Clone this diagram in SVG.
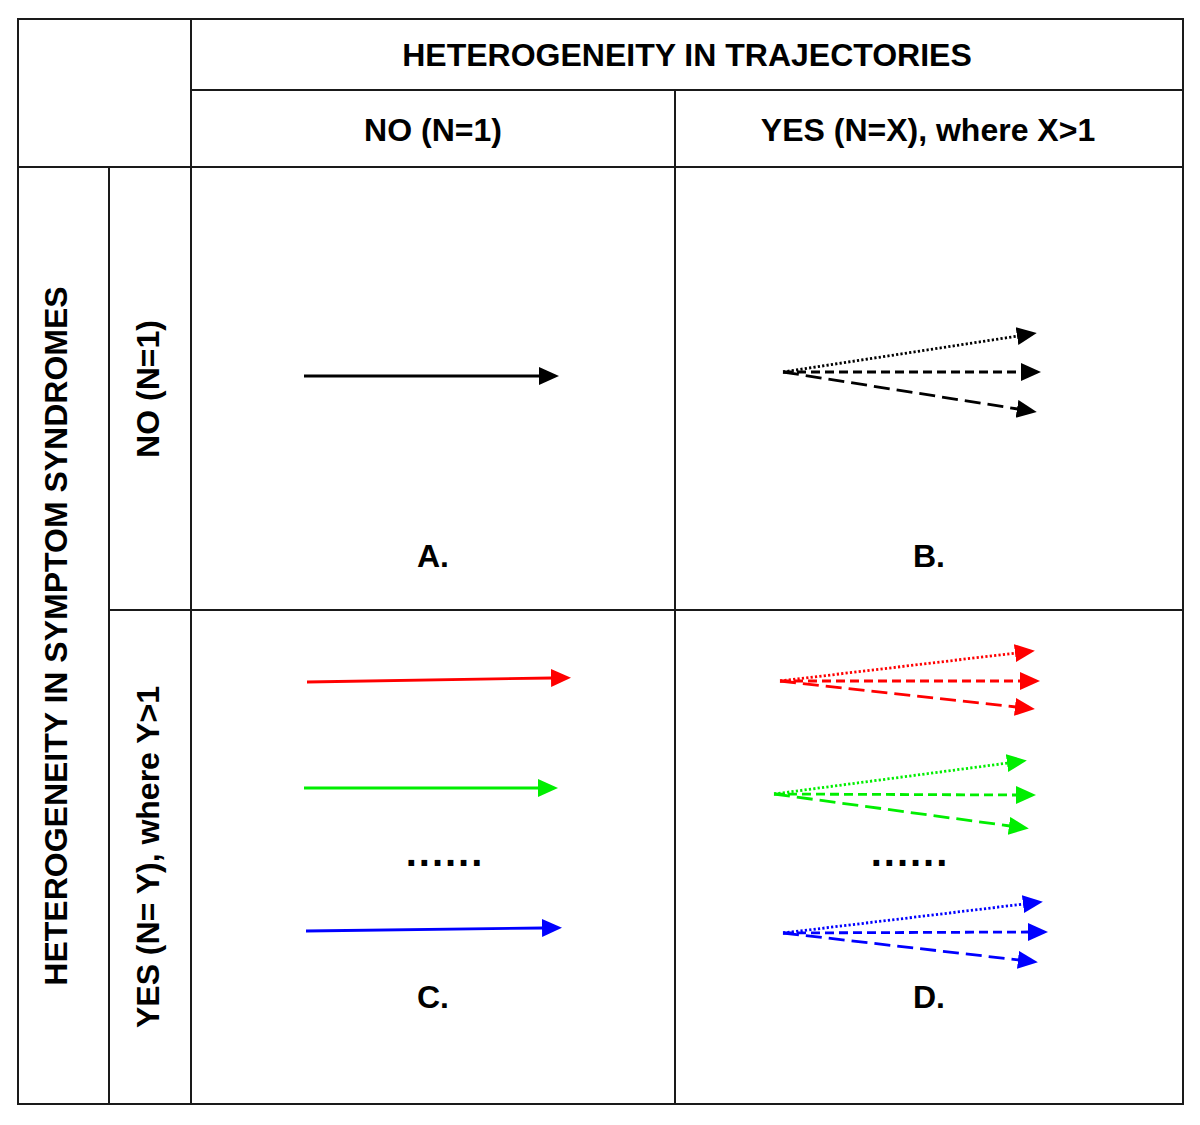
<svg xmlns="http://www.w3.org/2000/svg" width="1200" height="1125" viewBox="0 0 1200 1125">
<defs>
<style>
.grid{stroke:#1a1a1a;stroke-width:2;fill:none}
.t{font-family:"Liberation Sans",Arial,sans-serif;font-weight:bold;font-size:32px;fill:#000;text-anchor:middle}
.dots{font-size:40px;letter-spacing:2px}
.a{fill:none;stroke-width:2.8}
.dot{stroke-dasharray:2.2 2.2}
.dash{stroke-dasharray:9 5}
.ldash{stroke-dasharray:16 7}
</style>
<marker id="hk" markerUnits="userSpaceOnUse" markerWidth="22" markerHeight="20" refX="1" refY="9" orient="auto" viewBox="0 0 22 20"><path d="M0,0 L20,9 L0,18 z" fill="#000"/></marker>
<marker id="hr" markerUnits="userSpaceOnUse" markerWidth="22" markerHeight="20" refX="1" refY="9" orient="auto" viewBox="0 0 22 20"><path d="M0,0 L20,9 L0,18 z" fill="#ff0000"/></marker>
<marker id="hg" markerUnits="userSpaceOnUse" markerWidth="22" markerHeight="20" refX="1" refY="9" orient="auto" viewBox="0 0 22 20"><path d="M0,0 L20,9 L0,18 z" fill="#00ee00"/></marker>
<marker id="hb" markerUnits="userSpaceOnUse" markerWidth="22" markerHeight="20" refX="1" refY="9" orient="auto" viewBox="0 0 22 20"><path d="M0,0 L20,9 L0,18 z" fill="#0000ff"/></marker>
</defs>
<rect width="1200" height="1125" fill="#fff"/>
<g id="table">
<rect class="grid" x="18" y="19" width="1165" height="1085"/>
<line class="grid" x1="191" y1="19" x2="191" y2="1104"/>
<line class="grid" x1="675" y1="90" x2="675" y2="1104"/>
<line class="grid" x1="109" y1="167" x2="109" y2="1104"/>
<line class="grid" x1="191" y1="90" x2="1183" y2="90"/>
<line class="grid" x1="18" y1="167" x2="1183" y2="167"/>
<line class="grid" x1="109" y1="610" x2="1183" y2="610"/>
</g>
<g id="headers">
<text class="t" x="687" y="66">HETEROGENEITY IN TRAJECTORIES</text>
<text class="t" x="433" y="141">NO (N=1)</text>
<text class="t" x="928" y="141">YES (N=X), where X&gt;1</text>
<text class="t" transform="translate(67,636) rotate(-90)">HETEROGENEITY IN SYMPTOM SYNDROMES</text>
<text class="t" transform="translate(159,389) rotate(-90)">NO (N=1)</text>
<text class="t" transform="translate(159,857) rotate(-90)">YES (N= Y), where Y&gt;1</text>
</g>
<g id="labels">
<text class="t" x="433" y="567">A.</text>
<text class="t" x="929" y="567">B.</text>
<text class="t" x="433" y="1008">C.</text>
<text class="t" x="929" y="1008">D.</text>
<text class="t dots" x="445" y="866">......</text>
<text class="t dots" x="910" y="866">......</text>
</g>
<g id="connectors">
<line class="a" stroke="#000" x1="304" y1="376" x2="540" y2="376" marker-end="url(#hk)"/>
<line class="a dot" stroke="#000" x1="783" y1="372" x2="1018" y2="336" marker-end="url(#hk)"/>
<line class="a dash" stroke="#000" x1="783" y1="372" x2="1022" y2="372" marker-end="url(#hk)"/>
<line class="a ldash" stroke="#000" x1="783" y1="372" x2="1018" y2="409" marker-end="url(#hk)"/>
<line class="a" stroke="#ff0000" x1="307" y1="682" x2="552" y2="678" marker-end="url(#hr)"/>
<line class="a" stroke="#00ee00" x1="304" y1="788" x2="539" y2="788" marker-end="url(#hg)"/>
<line class="a" stroke="#0000ff" x1="306" y1="931" x2="543" y2="928" marker-end="url(#hb)"/>
<line class="a dot" stroke="#ff0000" x1="780" y1="681" x2="1016" y2="653" marker-end="url(#hr)"/>
<line class="a dash" stroke="#ff0000" x1="780" y1="681" x2="1021" y2="681" marker-end="url(#hr)"/>
<line class="a ldash" stroke="#ff0000" x1="780" y1="681" x2="1016" y2="707" marker-end="url(#hr)"/>
<line class="a dot" stroke="#00ee00" x1="774" y1="794" x2="1008" y2="763" marker-end="url(#hg)"/>
<line class="a dash" stroke="#00ee00" x1="774" y1="794" x2="1017" y2="795" marker-end="url(#hg)"/>
<line class="a ldash" stroke="#00ee00" x1="774" y1="794" x2="1010" y2="826" marker-end="url(#hg)"/>
<line class="a dot" stroke="#0000ff" x1="783" y1="933" x2="1024" y2="904" marker-end="url(#hb)"/>
<line class="a dash" stroke="#0000ff" x1="783" y1="933" x2="1029" y2="932" marker-end="url(#hb)"/>
<line class="a ldash" stroke="#0000ff" x1="783" y1="933" x2="1019" y2="960" marker-end="url(#hb)"/>
</g>
</svg>
